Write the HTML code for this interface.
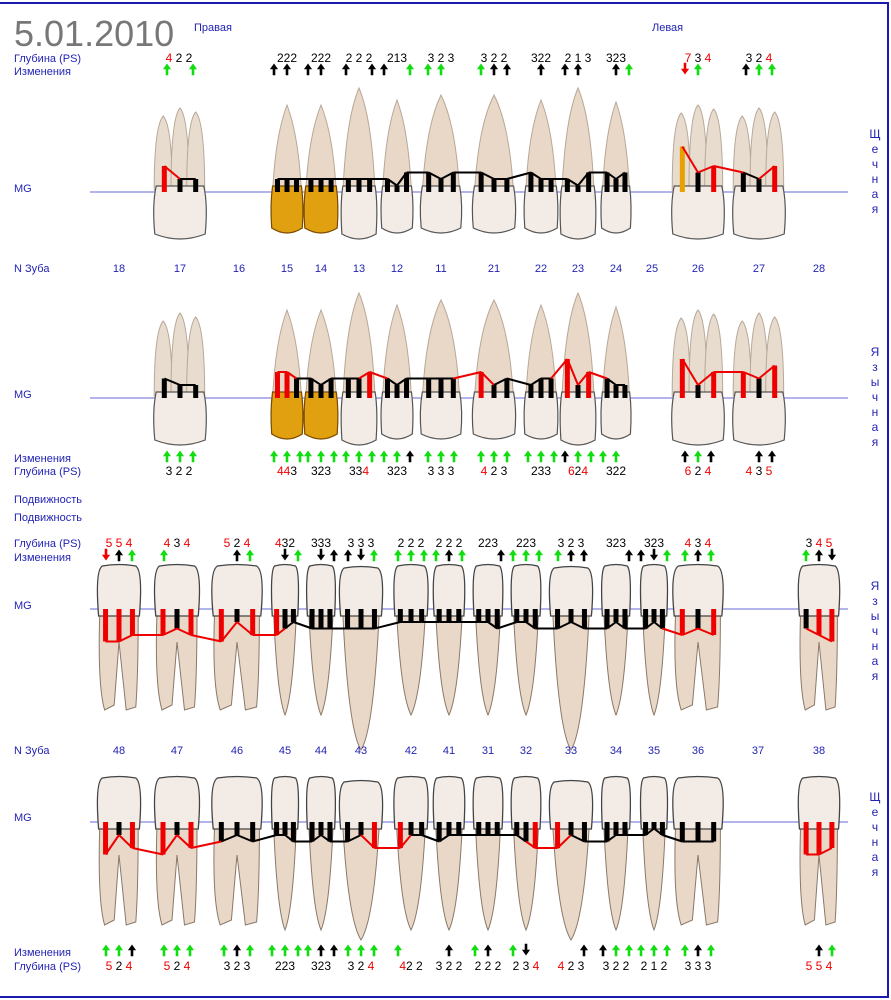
<!DOCTYPE html>
<html><head><meta charset="utf-8">
<style>
html,body{margin:0;padding:0;background:#fff;}
svg{display:block;font-family:"Liberation Sans",sans-serif;}
.l{fill:#2323b4;font-size:11px;}
.n{fill:#2323b4;font-size:11px;text-anchor:middle;}
.d{font-size:12px;text-anchor:middle;fill:#000;}
.r{fill:#e00;}
.v{fill:#2323b4;font-size:12px;text-anchor:middle;}
</style></head><body>
<svg id="s" width="891" height="1000" viewBox="0 0 891 1000" xmlns="http://www.w3.org/2000/svg">
<rect x="0" y="0" width="891" height="1000" fill="#fff"/>
<line x1="0" y1="3" x2="889" y2="3" stroke="#1a1ab0" stroke-width="2"/>
<line x1="888" y1="3" x2="888" y2="997" stroke="#1a1ab0" stroke-width="2"/>
<line x1="0" y1="997" x2="889" y2="997" stroke="#1a1ab0" stroke-width="2"/>
<g id="teeth"></g>
<g id="bars"></g>
<g id="arrows"></g>
<text x="14" y="46" font-size="36" fill="#777" stroke="#fff" stroke-width="1" style="paint-order:stroke" font-weight="normal">5.01.2010</text>
<text x="194" y="31" class="l">Правая</text>
<text x="652" y="31" class="l">Левая</text>
<text x="14" y="62" class="l">Глубина (PS)</text>
<text x="14" y="75" class="l">Изменения</text>
<text x="14" y="192" class="l">MG</text>
<text x="14" y="272" class="l">N Зуба</text>
<text x="14" y="398" class="l">MG</text>
<text x="14" y="462" class="l">Изменения</text>
<text x="14" y="475" class="l">Глубина (PS)</text>
<text x="14" y="503" class="l">Подвижность</text>
<text x="14" y="521" class="l">Подвижность</text>
<text x="14" y="547" class="l">Глубина (PS)</text>
<text x="14" y="561" class="l">Изменения</text>
<text x="14" y="609" class="l">MG</text>
<text x="14" y="754" class="l">N Зуба</text>
<text x="14" y="821" class="l">MG</text>
<text x="14" y="956" class="l">Изменения</text>
<text x="14" y="970" class="l">Глубина (PS)</text>
<g class="v">
<text x="875" y="138">Щ</text><text x="875" y="153">е</text><text x="875" y="168">ч</text><text x="875" y="183">н</text><text x="875" y="198">а</text><text x="875" y="213">я</text>
<text x="875" y="356">Я</text><text x="875" y="371">з</text><text x="875" y="386">ы</text><text x="875" y="401">ч</text><text x="875" y="416">н</text><text x="875" y="431">а</text><text x="875" y="446">я</text>
<text x="875" y="590">Я</text><text x="875" y="605">з</text><text x="875" y="620">ы</text><text x="875" y="635">ч</text><text x="875" y="650">н</text><text x="875" y="665">а</text><text x="875" y="680">я</text>
<text x="875" y="801">Щ</text><text x="875" y="816">е</text><text x="875" y="831">ч</text><text x="875" y="846">н</text><text x="875" y="861">а</text><text x="875" y="876">я</text>
</g>
<g class="n">
<text x="119" y="272">18</text><text x="180" y="272">17</text><text x="239" y="272">16</text><text x="287" y="272">15</text><text x="321" y="272">14</text><text x="359" y="272">13</text><text x="397" y="272">12</text><text x="441" y="272">11</text><text x="494" y="272">21</text><text x="541" y="272">22</text><text x="578" y="272">23</text><text x="616" y="272">24</text><text x="652" y="272">25</text><text x="698" y="272">26</text><text x="759" y="272">27</text><text x="819" y="272">28</text>
<text x="119" y="754">48</text><text x="177" y="754">47</text><text x="237" y="754">46</text><text x="285" y="754">45</text><text x="321" y="754">44</text><text x="361" y="754">43</text><text x="411" y="754">42</text><text x="449" y="754">41</text><text x="488" y="754">31</text><text x="526" y="754">32</text><text x="571" y="754">33</text><text x="616" y="754">34</text><text x="654" y="754">35</text><text x="698" y="754">36</text><text x="758" y="754">37</text><text x="819" y="754">38</text>
</g>
<g class="d">
<!-- row1 depths y=62 -->
<text x="179" y="62"><tspan class="r">4</tspan> 2 2</text>
<text x="287" y="62">222</text><text x="321" y="62">222</text><text x="359" y="62">2 2 2</text><text x="397" y="62">213</text><text x="441" y="62">3 2 3</text><text x="494" y="62">3 2 2</text><text x="541" y="62">322</text><text x="578" y="62">2 1 3</text><text x="616" y="62">323</text>
<text x="698" y="62"><tspan class="r">7</tspan> 3 <tspan class="r">4</tspan></text>
<text x="759" y="62">3 2 <tspan class="r">4</tspan></text>
<!-- row2 depths y=475 -->
<text x="179" y="475">3 2 2</text>
<text x="287" y="475"><tspan class="r">44</tspan>3</text><text x="321" y="475">323</text><text x="359" y="475">33<tspan class="r">4</tspan></text><text x="397" y="475">323</text><text x="441" y="475">3 3 3</text><text x="494" y="475"><tspan class="r">4</tspan> 2 3</text><text x="541" y="475">233</text><text x="578" y="475"><tspan class="r">6</tspan>2<tspan class="r">4</tspan></text><text x="616" y="475">322</text>
<text x="698" y="475"><tspan class="r">6</tspan> 2 <tspan class="r">4</tspan></text>
<text x="759" y="475"><tspan class="r">4</tspan> 3 <tspan class="r">5</tspan></text>
<!-- row3 depths y=547 -->
<text x="119" y="547" class="r">5 5 4</text>
<text x="177" y="547"><tspan class="r">4</tspan> 3 <tspan class="r">4</tspan></text>
<text x="237" y="547"><tspan class="r">5</tspan> 2 <tspan class="r">4</tspan></text>
<text x="285" y="547"><tspan class="r">4</tspan>32</text>
<text x="321" y="547">333</text><text x="361" y="547">3 3 3</text><text x="411" y="547">2 2 2</text><text x="449" y="547">2 2 2</text><text x="488" y="547">223</text><text x="526" y="547">223</text><text x="571" y="547">3 2 3</text><text x="616" y="547">323</text><text x="654" y="547">323</text>
<text x="698" y="547"><tspan class="r">4</tspan> 3 <tspan class="r">4</tspan></text>
<text x="819" y="547">3 <tspan class="r">4 5</tspan></text>
<!-- row4 depths y=970 -->
<text x="119" y="970"><tspan class="r">5</tspan> 2 <tspan class="r">4</tspan></text>
<text x="177" y="970"><tspan class="r">5</tspan> 2 <tspan class="r">4</tspan></text>
<text x="237" y="970">3 2 3</text><text x="285" y="970">223</text><text x="321" y="970">323</text><text x="361" y="970">3 2 <tspan class="r">4</tspan></text><text x="411" y="970"><tspan class="r">4</tspan>2 2</text><text x="449" y="970">3 2 2</text><text x="488" y="970">2 2 2</text><text x="526" y="970">2 3 <tspan class="r">4</tspan></text><text x="571" y="970"><tspan class="r">4</tspan> 2 3</text><text x="616" y="970">3 2 2</text><text x="654" y="970">2 1 2</text><text x="698" y="970">3 3 3</text>
<text x="819" y="970" class="r">5 5 4</text>
</g>
</svg>
<script>
var NS="http://www.w3.org/2000/svg";
function el(p,t,a){var e=document.createElementNS(NS,t);for(var k in a)e.setAttribute(k,a[k]);document.getElementById(p).appendChild(e);return e;}
// MG lines
[[90,192,848],[90,398,848],[90,609,848],[90,822,848]].forEach(function(m){el('teeth','line',{x1:m[0],y1:m[1],x2:m[2],y2:m[1],stroke:'#6a6ad8','stroke-width':1});});
var up=[[180,56,108,'m'],[287,34,105,'p'],[321,36,105,'p'],[359,38,88,'c'],[397,34,100,'i'],[441,44,95,'i'],[494,46,95,'i'],[541,36,100,'i'],[578,38,88,'c'],[616,32,102,'p'],[698,56,105,'m'],[759,56,108,'m']];
var lo=[[119,48,'m'],[177,50,'m'],[237,56,'m'],[285,30,'p'],[321,32,'p'],[361,48,'c'],[411,38,'i'],[449,35,'i'],[488,33,'i'],[526,33,'i'],[571,48,'c'],[616,32,'p'],[654,30,'p'],[698,56,'m'],[819,46,'m']];
function toothUp(cx,w,tip,cej,bot,gold,type){
 var rw=w*0.42;
 if(type=='m'){
  [[-w*0.3,tip+8],[0,tip],[w*0.28,tip+4]].forEach(function(r){
   el('teeth','path',{d:'M'+(cx+r[0]-9)+','+cej+' Q'+(cx+r[0]-9)+','+(r[1]+10)+' '+(cx+r[0])+','+r[1]+' Q'+(cx+r[0]+9)+','+(r[1]+10)+' '+(cx+r[0]+9)+','+cej+'Z',fill:'#e8dccf',stroke:'#b8a898','stroke-width':1});});
 } else {
  el('teeth','path',{d:'M'+(cx-rw)+','+cej+' Q'+(cx-rw*0.8)+','+(tip+30)+' '+cx+','+tip+' Q'+(cx+rw*0.8)+','+(tip+30)+' '+(cx+rw)+','+cej+'Z',fill:'#e9d8c8',stroke:'#b8a898','stroke-width':1});
 }
 var h=w/2;
 el('teeth','path',{d:'M'+(cx-h*0.85)+','+(cej-4)+' L'+(cx+h*0.85)+','+(cej-4)+' Q'+(cx+h)+','+(cej+15)+' '+(cx+h*0.9)+','+(bot-6)+' Q'+cx+','+(bot+4)+' '+(cx-h*0.9)+','+(bot-6)+' Q'+(cx-h)+','+(cej+15)+' '+(cx-h*0.85)+','+(cej-4)+'Z',fill:gold?'#e0a010':'#f2ebe6',stroke:gold?'#7a4a00':'#555','stroke-width':1.2});
}
function toothLo(cx,w,top,cej,tip,type){
 var h=w/2;
 if(type=='m'){
  el('teeth','path',{d:'M'+(cx-h*0.8)+','+cej+' Q'+(cx-h*0.9)+','+(tip-30)+' '+(cx-h*0.6)+','+(tip-5)+' L'+(cx-h*0.2)+','+(tip-10)+' L'+(cx)+','+(cej+30)+' L'+(cx+h*0.3)+','+(tip-5)+' L'+(cx+h*0.7)+','+(tip-8)+' Q'+(cx+h*0.8)+','+(tip-40)+' '+(cx+h*0.8)+','+cej+'Z',fill:'#e9d8c8',stroke:'#8a7868','stroke-width':1});
 } else {
  var rw=w*0.38;
  el('teeth','path',{d:'M'+(cx-rw)+','+cej+' Q'+(cx-rw*0.7)+','+(tip-20)+' '+cx+','+tip+' Q'+(cx+rw*0.7)+','+(tip-20)+' '+(cx+rw)+','+cej+'Z',fill:'#e9d8c8',stroke:'#8a7868','stroke-width':1});
 }
 el('teeth','path',{d:'M'+(cx-h*0.85)+','+(cej+4)+' Q'+(cx-h)+','+(top+5)+' '+(cx-h*0.7)+','+top+' Q'+cx+','+(top-3)+' '+(cx+h*0.7)+','+top+' Q'+(cx+h)+','+(top+5)+' '+(cx+h*0.85)+','+(cej+4)+'Z',fill:'#f2ebe6',stroke:'#444','stroke-width':1.3});
}
up.forEach(function(t){var g=(t[0]==287||t[0]==321);var b=t[3]=='m'?240:(t[3]=='c'?240:234);
 toothUp(t[0],t[1],t[2],190,b,g,t[3]);
 toothUp(t[0],t[1],t[2]+205,396,b+206,g,t[3]);});
lo.forEach(function(t){var c=t[2]=='c';
 toothLo(t[0],t[1],c?568:566,612,c?750:715,t[2]);
 toothLo(t[0],t[1],c?782:778,825,c?940:930,t[2]);});
// bars
function bars(list,mg,dir){
 var pts=[];
 list.forEach(function(t){var cx=t[0],w=t[1],ds=t[2];
  for(var i=0;i<3;i++){var d=ds[i];if(d==null)continue;var x=cx+(i-1)*w*0.28;var L=d*6.5;var y=mg+dir*L;
   var col=d>=4?'#e00':'#000'; if(d>=7)col='#e8a000';
   el('bars','rect',{x:x-2.5,y:Math.min(mg,y),width:5,height:L,fill:col});
   pts.push([x,y,d>=4]);}
 });
 for(var i=0;i<pts.length-1;i++){var a=pts[i],b=pts[i+1];
  if(b[0]-a[0]>50)continue;
  el('bars','line',{x1:a[0],y1:a[1],x2:b[0],y2:b[1],stroke:(a[2]||b[2])?'#e00':'#000','stroke-width':2});}
}
bars([[180,56,[4,2,2]],[287,34,[2,2,2]],[321,36,[2,2,2]],[359,38,[2,2,2]],[397,34,[2,1,3]],[441,44,[3,2,3]],[494,46,[3,2,2]],[541,36,[3,2,2]],[578,38,[2,1,3]],[616,32,[3,2,3]],[698,56,[7,3,4]],[759,56,[3,2,4]]],192,-1);
bars([[180,56,[3,2,2]],[287,34,[4,4,3]],[321,36,[3,2,3]],[359,38,[3,3,4]],[397,34,[3,2,3]],[441,44,[3,3,3]],[494,46,[4,2,3]],[541,36,[2,3,3]],[578,38,[6,2,4]],[616,32,[3,2,2]],[698,56,[6,2,4]],[759,56,[4,3,5]]],398,-1);
bars([[119,48,[5,5,4]],[177,50,[4,3,4]],[237,56,[5,2,4]],[285,30,[4,3,2]],[321,32,[3,3,3]],[361,48,[3,3,3]],[411,38,[2,2,2]],[449,35,[2,2,2]],[488,33,[2,2,3]],[526,33,[2,2,3]],[571,48,[3,2,3]],[616,32,[3,2,3]],[654,30,[3,2,3]],[698,56,[4,3,4]],[819,46,[3,4,5]]],609,1);
bars([[119,48,[5,2,4]],[177,50,[5,2,4]],[237,56,[3,2,3]],[285,30,[2,2,3]],[321,32,[3,2,3]],[361,48,[3,2,4]],[411,38,[4,2,2]],[449,35,[3,2,2]],[488,33,[2,2,2]],[526,33,[2,3,4]],[571,48,[4,2,3]],[616,32,[3,2,2]],[654,30,[2,1,2]],[698,56,[3,3,3]],[819,46,[5,5,4]]],822,1);
// arrows
function arr(x,y,code){
 var c={g:'#1d1',G:'#1d1',b:'#000',B:'#000',r:'#e00',R:'#e00'}[code];
 var down=(code=='B'||code=='G'||code=='R');
 var d=down?'M'+(x-1)+','+(y-6)+' h2 v6 h2.5 l-3.5,5 l-3.5,-5 h2.5z':'M'+(x-1)+','+(y+6)+' h2 v-6 h2.5 l-3.5,-5 l-3.5,5 h2.5z';
 el('arrows','path',{d:d,fill:c,stroke:c,'stroke-width':0.6});
}
function arrows(list,y){list.forEach(function(t){var cx=t[0],s=t[1];for(var i=0;i<3;i++){if(s[i]!='_')arr(cx+(i-1)*13,y,s[i]);}});}
arrows([[180,'g_g'],[287,'bb_'],[321,'bb_'],[359,'b_b'],[397,'b_g'],[441,'gg_'],[494,'gbb'],[541,'_b_'],[578,'bb_'],[616,'_bg'],[698,'Rg_'],[759,'bgg']],69);
arrows([[180,'ggg'],[287,'ggg'],[321,'ggg'],[359,'ggg'],[397,'ggb'],[441,'ggg'],[494,'ggg'],[541,'ggg'],[578,'bgg'],[616,'gg_'],[698,'bgb'],[759,'_bb']],456);
arrows([[119,'Rbg'],[177,'g__'],[237,'_bg'],[285,'_Bg'],[321,'_Bb'],[361,'bBg'],[411,'ggg'],[449,'gbg'],[488,'__b'],[526,'ggg'],[571,'gbb'],[616,'__b'],[654,'bBg'],[698,'gbg'],[819,'gbB']],555);
arrows([[119,'ggb'],[177,'ggg'],[237,'gbg'],[285,'ggg'],[321,'gbb'],[361,'ggg'],[411,'g__'],[449,'_b_'],[488,'gb_'],[526,'gB_'],[571,'__b'],[616,'bgg'],[654,'ggg'],[698,'gbg'],[819,'_bg']],950);
</script>
</body></html>
